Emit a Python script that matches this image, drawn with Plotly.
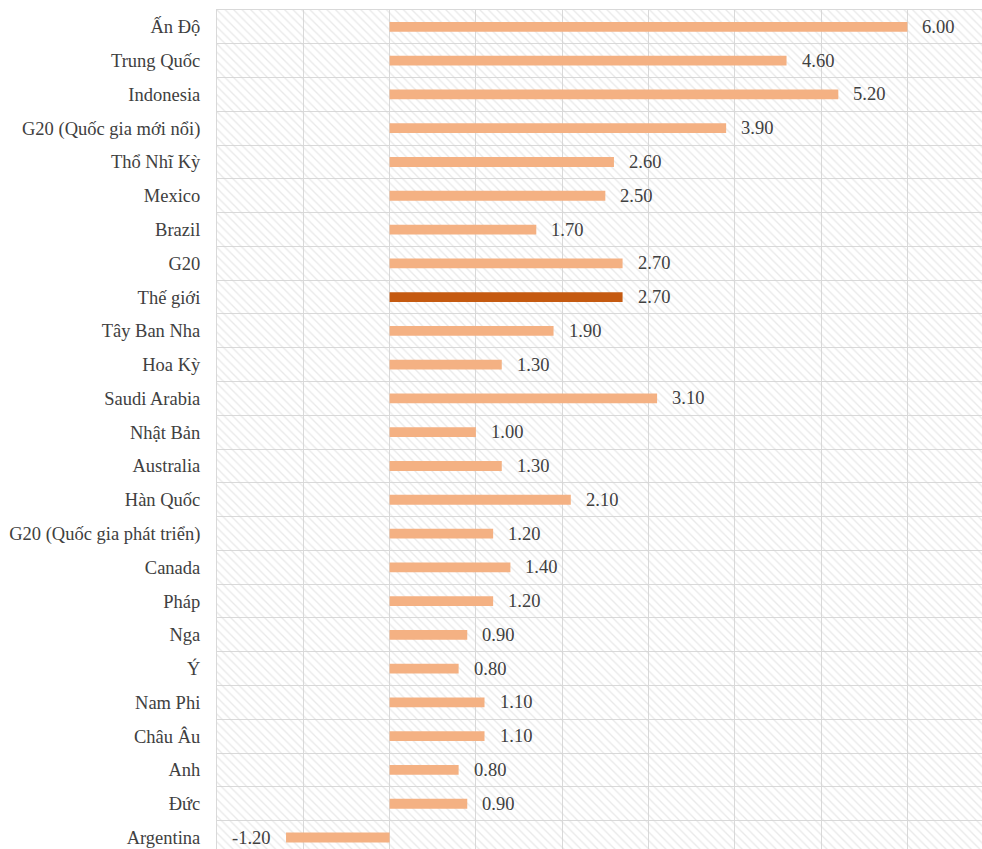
import plotly.graph_objects as go

categories = ["Ấn Độ", "Trung Quốc", "Indonesia", "G20 (Quốc gia mới nổi)", "Thổ Nhĩ Kỳ",
              "Mexico", "Brazil", "G20", "Thế giới", "Tây Ban Nha", "Hoa Kỳ", "Saudi Arabia",
              "Nhật Bản", "Australia", "Hàn Quốc", "G20 (Quốc gia phát triển)", "Canada",
              "Pháp", "Nga", "Ý", "Nam Phi", "Châu Âu", "Anh", "Đức", "Argentina"]
values = [6.00, 4.60, 5.20, 3.90, 2.60, 2.50, 1.70, 2.70, 2.70, 1.90, 1.30, 3.10,
          1.00, 1.30, 2.10, 1.20, 1.40, 1.20, 0.90, 0.80, 1.10, 1.10, 0.80, 0.90, -1.20]
highlight = "Thế giới"

LIGHT = "#F4B183"
DARK = "#C55A11"
GRID = "#d9d9d9"
TEXT = "#404040"
FONT = "Liberation Serif"
FSIZE = 18.5

X_MIN, X_MAX = -2, 6.865
Y_TOP, Y_BOTTOM = -0.5, 24.34

idx = list(range(len(categories)))
colors = [DARK if c == highlight else LIGHT for c in categories]

fig = go.Figure()

# hatched background bands
fig.add_trace(go.Bar(
    y=idx, x=[X_MAX - X_MIN + 1] * len(idx), base=X_MIN, orientation="h", width=1,
    marker=dict(color="rgba(0,0,0,0)", line=dict(width=0),
                pattern=dict(shape="\\", fgcolor="#d4d4d4", size=6, solidity=0.22,
                             fillmode="overlay")),
    hoverinfo="skip", showlegend=False))

fig.add_trace(go.Bar(
    y=idx, x=values, orientation="h", width=0.29,
    marker=dict(color=colors, line=dict(width=0)),
    showlegend=False))

for i, v in zip(idx, values):
    fig.add_annotation(
        x=v, y=i, text=f"{v:.2f}", showarrow=False,
        xanchor="left" if v >= 0 else "right",
        xshift=13 if v >= 0 else -13,
        font=dict(family=FONT, size=FSIZE, color=TEXT))

fig.update_layout(
    width=982, height=849,
    margin=dict(l=217, r=0, t=10, b=0, autoexpand=False),
    barmode="overlay",
    plot_bgcolor="white", paper_bgcolor="white",
    font=dict(family=FONT, size=FSIZE, color=TEXT),
    xaxis=dict(range=[X_MIN, X_MAX], dtick=1, tick0=0, showgrid=True, gridcolor=GRID,
               gridwidth=1, zeroline=False, showticklabels=False, side="top",
               showline=True, linecolor=GRID, linewidth=1, fixedrange=True),
    yaxis=dict(range=[Y_BOTTOM, Y_TOP], tickmode="array", tickvals=idx, ticktext=categories,
               showgrid=False, zeroline=False, showline=True, linecolor=GRID, linewidth=1,
               ticks="outside", ticklen=12, tickcolor="rgba(0,0,0,0)",
               tickfont=dict(family=FONT, size=FSIZE, color=TEXT),
               minor=dict(tick0=0.5, dtick=1, showgrid=True, gridcolor=GRID, gridwidth=1),
               fixedrange=True),
)

fig.write_html("out.html", config={"displayModeBar": False},
               post_script="document.body.style.margin='0';document.body.style.overflow='hidden';")
